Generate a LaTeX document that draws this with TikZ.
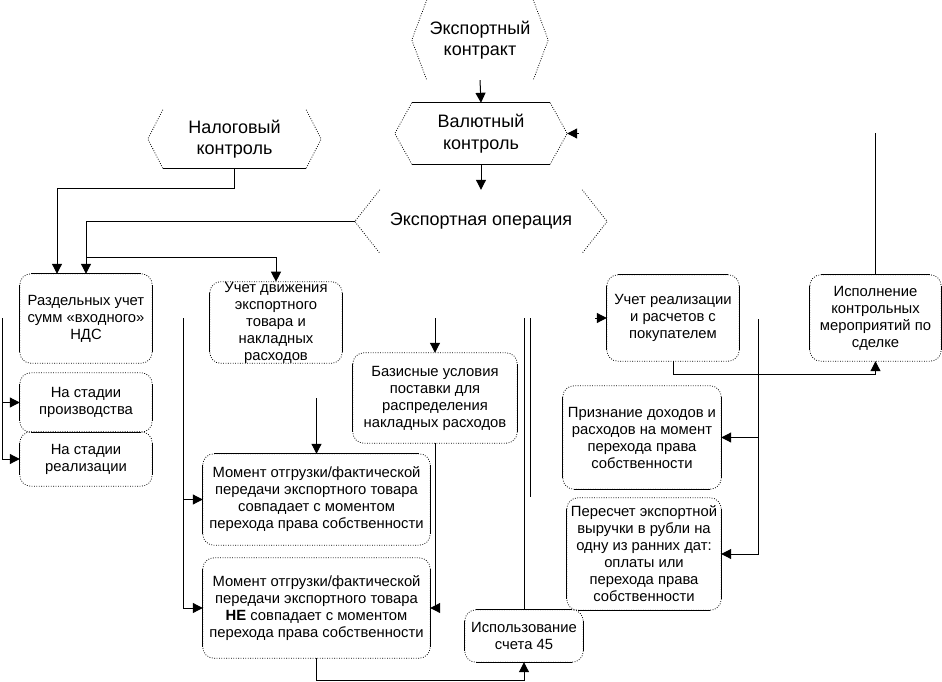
\documentclass[tikz,border=0pt]{standalone}
\usepackage{fontspec}
\setmainfont{Liberation Sans}
\usetikzlibrary{arrows.meta,calc}
\tikzset{
  every node/.style={font=\fontsize{14.8}{17}\selectfont, align=center, inner sep=0pt},
  hexnode/.style={font=\fontsize{18}{21.5}\selectfont},
  bx/.style 2 args={minimum width=#1pt, minimum height=#2pt},
  ln/.style={line width=1pt},
  dots/.style={line width=0.8pt, dash pattern=on 0.8pt off 1.6pt},
  arr/.style={ln, -{Triangle[length=10pt,width=10pt]}},
}
\newcommand\rbx[1]{%
  \draw[dots,rounded corners=11pt] (#1.north west) rectangle (#1.south east);
  \draw[ln] ([yshift=-11pt]#1.north west) -- ([yshift=11pt]#1.south west);
  \draw[ln] ([yshift=-11pt]#1.north east) -- ([yshift=11pt]#1.south east);}
\newcommand\topln[1]{\draw[ln] ([xshift=11pt]#1.north west) -- ([xshift=-11pt]#1.north east);}
\newcommand\botln[1]{\draw[ln] ([xshift=11pt]#1.south west) -- ([xshift=-11pt]#1.south east);}
\newcommand\hexsides[2]{%
  \draw[dots] ([xshift=#2pt]#1.north west) -- (#1.west) -- ([xshift=#2pt]#1.south west);
  \draw[dots] ([xshift=-#2pt]#1.north east) -- (#1.east) -- ([xshift=-#2pt]#1.south east);}
\newcommand\hextop[2]{\draw[ln] ([xshift=#2pt]#1.north west) -- ([xshift=-#2pt]#1.north east);}
\newcommand\hexbot[2]{\draw[ln] ([xshift=#2pt]#1.south west) -- ([xshift=-#2pt]#1.south east);}
\begin{document}
\begin{tikzpicture}[x=1pt,y=-1pt]
\fill[white] (0,0) rectangle (942,682);
\useasboundingbox (0,0) rectangle (942,682);

% hexagons
\node[hexnode,bx={136}{80}] (kontr) at (480,40) {Экспортный\\контракт};
\node[hexnode,bx={172}{61}] (val) at (481,133.5) {Валютный\\контроль};
\node[hexnode,bx={252}{63}] (oper) at (481,221.5) {Экспортная операция};
\node[hexnode,bx={173}{58}] (nalog) at (234.5,139) {Налоговый\\контроль};
\hexsides{kontr}{15}
\hexsides{val}{17}\hextop{val}{17}\hexbot{val}{17}
\hexsides{oper}{25}
\hexsides{nalog}{15}\hexbot{nalog}{15}

% rounded boxes
\node[bx={132}{89}] (razd) at (86,318.5) {Раздельных учет\\сумм «входного»\\НДС};
\node[bx={132}{59}] (proizv) at (86,402.5) {На стадии\\производства};
\node[bx={132}{54}] (realiz) at (86,459) {На стадии\\реализации};
\node[bx={132}{81}] (dvizh) at (276,322.5) {Учет движения\\экспортного\\товара и\\накладных\\расходов};
\node[bx={164}{90}] (bazis) at (435,398) {Базисные условия\\поставки для\\распределения\\накладных расходов};
\node[bx={227}{91}] (mom1) at (316.5,499.5) {Момент отгрузки/фактической\\передачи экспортного товара\\совпадает с моментом\\перехода права собственности};
\node[bx={227}{100}] (mom2) at (316.5,608) {Момент отгрузки/фактической\\передачи экспортного товара\\\textbf{НЕ} совпадает с моментом\\перехода права собственности};
\node[bx={118}{52}] (isp45) at (524,636) {Использование\\счета 45};
\node[bx={132}{86}] (uchreal) at (673,318) {Учет реализации\\и расчетов с\\покупателем};
\node[bx={131}{86}] (ispoln) at (875.5,318) {Исполнение\\контрольных\\мероприятий по\\сделке};
\node[bx={158}{103}] (priz) at (642,437.5) {Признание доходов и\\расходов на момент\\перехода права\\собственности};
\node[bx={154}{112}] (peres) at (644,554) {Пересчет экспортной\\выручки в рубли на\\одну из ранних дат:\\оплаты или\\перехода права\\собственности};
\rbx{razd}\topln{razd}
\rbx{proizv}\botln{proizv}
\rbx{realiz}
\rbx{dvizh}
\rbx{bazis}
\rbx{mom1}\topln{mom1}
\rbx{mom2}
\rbx{isp45}\topln{isp45}\botln{isp45}
\rbx{uchreal}\topln{uchreal}
\rbx{ispoln}\topln{ispoln}
\rbx{priz}\botln{priz}
\rbx{peres}\botln{peres}

% free ends
\coordinate (l1) at (2,318);
\coordinate (l2) at (2,459);
\coordinate (m0) at (183,318);
\coordinate (d0) at (316.5,398);
\coordinate (b0) at (435,318);
\coordinate (v1) at (530,318);
\coordinate (v2) at (530,497);
\coordinate (i0) at (875.5,133.5);
\coordinate (u0) at (595,318);
\coordinate (r0) at (758,319);
\coordinate (br) at (86,257);

% connectors
\draw[arr] (kontr.south) -- (val.north);
\draw[arr] (val.south) -- (oper.north);
\draw[arr] (nalog.south) -- ++(0,20) -| ([xshift=-29pt]razd.north);
\draw[arr] (oper.west) -| (razd.north);
\draw[arr] (br) -| (dvizh.north);
\draw[ln] (l1) -- (l2);
\draw[arr] (l1 |- proizv.west) -- (proizv.west);
\draw[arr] (l2) -- (realiz.west);
\draw[arr] (m0) |- (mom2.west);
\draw[arr] (m0 |- mom1.west) -- (mom1.west);
\draw[arr] (d0) -- (mom1.north);
\draw[arr] (b0) -- (bazis.north);
\draw[arr] (bazis.south) |- (mom2.east);
\draw[arr] (mom2.south) -- ++(0,22) -| (isp45.south);
\draw[ln] (isp45.north) -- ++(0,-292);
\draw[ln] (v1) -- (v2);
\draw[ln] (ispoln.north) -- (i0);
\draw[arr] ([xshift=12pt]val.east) -- (val.east);
\draw[arr] (u0) -- (uchreal.west);
\draw[arr] (uchreal.south) -- ++(0,13) -| (ispoln.south);
\draw[arr] (r0) |- (peres.east);
\draw[arr] (r0 |- priz.east) -- (priz.east);
\end{tikzpicture}
\end{document}
